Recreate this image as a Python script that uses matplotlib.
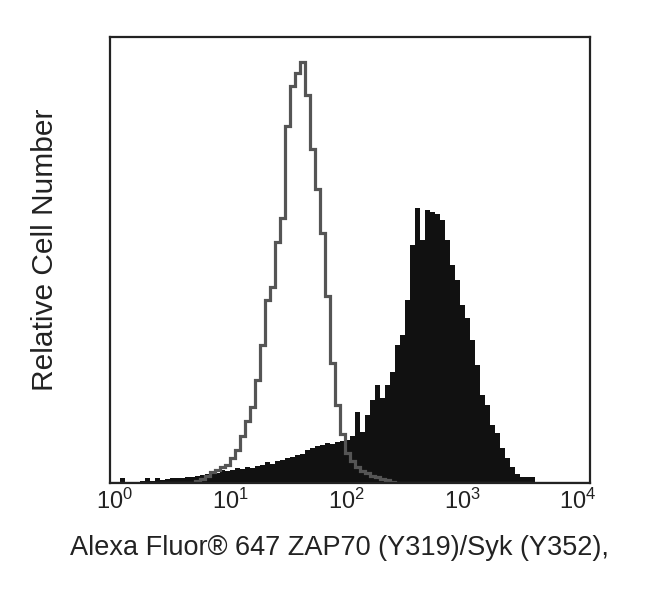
import numpy as np
import matplotlib
matplotlib.use("Agg")
import matplotlib.pyplot as plt

plt.rcParams['font.family'] = ['Liberation Sans', 'DejaVu Sans']

# histogram channels: log10 bin edges (96 bins spanning the axis)
bin_start = -0.0432
bin_width = 0.0432
n_bins = 96

# black filled histogram (ZAP70/Syk stained), relative counts per bin
stained = [
    0.2, 0.2, 1.1, 0.2, 0.2, 0.2, 0.4, 1.1, 0.4, 1.1,
    0.7, 0.9, 1.1, 1.1, 1.1, 1.3, 1.3, 1.6, 1.8, 2.0,
    2.5, 2.2, 2.9, 2.7, 2.9, 3.4, 3.1, 3.6, 3.4, 3.8,
    4.0, 4.7, 4.3, 4.9, 5.2, 5.6, 5.8, 6.3, 6.5, 7.4,
    7.8, 8.3, 8.5, 9.0, 8.7, 9.2, 9.4, 9.6, 10.5, 15.9,
    11.4, 15.2, 18.6, 22.0, 19.1, 22.0, 24.9, 30.9, 33.2, 41.0,
    53.4, 61.7, 54.5, 61.2, 60.8, 60.3, 59.0, 54.5, 48.9, 45.5,
    39.9, 37.0, 32.1, 26.5, 19.7, 17.5, 13.0, 11.2, 7.8, 5.6,
    3.6, 2.0, 1.3, 1.3, 1.3, 0.2, 0.0, 0.0, 0.0, 0.0,
    0.0, 0.0, 0.0, 0.0, 0.0, 0.0,
]

# gray open histogram (control), relative counts per bin
control = [
    0.0, 0.0, 0.0, 0.0, 0.0, 0.0, 0.0, 0.0, 0.0, 0.0,
    0.0, 0.0, 0.0, 0.0, 0.0, 0.0, 0.0, 0.5, 1.0, 1.5,
    2.5, 3.0, 3.5, 4.0, 5.5, 7.5, 10.5, 14.0, 17.0, 23.0,
    31.0, 41.0, 44.0, 54.0, 59.5, 80.0, 89.0, 92.0, 94.4, 87.0,
    75.0, 66.0, 56.0, 42.0, 27.0, 17.5, 11.0, 6.7, 5.0, 3.5,
    2.8, 2.2, 1.5, 1.3, 1.0, 0.6, 0.3, 0.0, 0.0, 0.0,
    0.0, 0.0, 0.0, 0.0, 0.0, 0.0, 0.0, 0.0, 0.0, 0.0,
    0.0, 0.0, 0.0, 0.0, 0.0, 0.0, 0.0, 0.0, 0.0, 0.0,
    0.0, 0.0, 0.0, 0.0, 0.0, 0.0, 0.0, 0.0, 0.0, 0.0,
    0.0, 0.0, 0.0, 0.0, 0.0, 0.0,
]

tick_values = [1, 10, 100, 1000, 10000]
tick_labels = [r'$\mathdefault{10^{0}}$', r'$\mathdefault{10^{1}}$',
               r'$\mathdefault{10^{2}}$', r'$\mathdefault{10^{3}}$',
               r'$\mathdefault{10^{4}}$']
x_label = "Alexa Fluor\u00ae 647 ZAP70 (Y319)/Syk (Y352),"
y_label = "Relative Cell Number"

edges = 10 ** (bin_start + bin_width * np.arange(n_bins + 1))

fig = plt.figure(figsize=(6.5, 6.05), dpi=100)
ax = fig.add_axes([110 / 650, (605 - 483) / 605, 480 / 650, 446 / 605])

ax.stairs(stained, edges, fill=True, color='#111111', baseline=0)
ax.stairs(control, edges, color='#555555', linewidth=2.3, baseline=0)

ax.set_xscale('log')
ax.set_xlim(edges[0], edges[-1])
ax.set_ylim(0, 100)
ax.set_xticks(tick_values)
ax.set_xticklabels(tick_labels)
ax.minorticks_off()
ax.set_yticks([])
ax.tick_params(axis='x', length=0, pad=4, labelsize=17, colors='#222222')
for s in ax.spines.values():
    s.set_linewidth(1.6)
    s.set_color('#222222')

fig.text(340 / 650, 1 - 548 / 605, x_label, ha='center', va='center',
         fontsize=19.5, color='#222222')
fig.text(45 / 650, 1 - 250 / 605, y_label, ha='center', va='center',
         rotation=90, fontsize=21.5, color='#222222')

fig.savefig('out.png', dpi=100)
